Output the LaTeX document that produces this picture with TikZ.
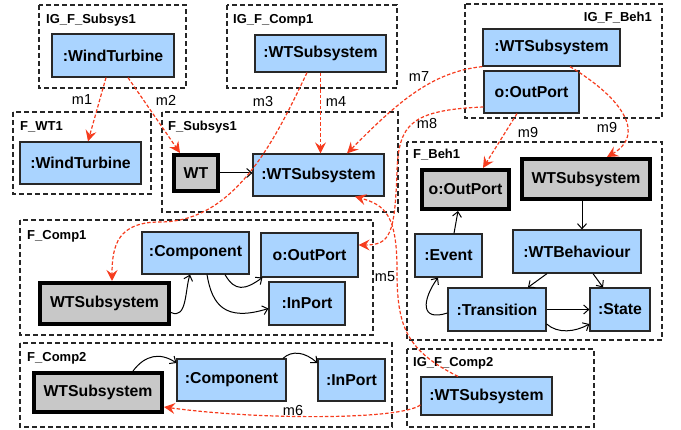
\documentclass[tikz,border=0pt]{standalone}
\usepackage{fontspec}
\setmainfont{Liberation Sans}
\usetikzlibrary{arrows.meta}

\definecolor{boxblue}{RGB}{170,212,255}
\definecolor{boxgray}{RGB}{200,200,200}
\definecolor{mapred}{RGB}{246,60,30}
\definecolor{edgedark}{RGB}{40,40,40}

\begin{document}
\begin{tikzpicture}[x=1pt,y=-1pt,
  sz/.style 2 args={minimum width=#1pt, minimum height=#2pt},
  inst/.style={draw=edgedark, line width=1.2pt, fill=boxblue, inner sep=0pt,
    font=\fontsize{15.8}{18}\selectfont\bfseries},
  role/.style={draw=black, line width=4pt, fill=boxgray, inner sep=0pt,
    font=\fontsize{15.8}{18}\selectfont\bfseries},
  frame/.style={draw=black!85, line width=1.2pt, dash pattern=on 5pt off 3pt},
  ftitle/.style={font=\fontsize{13}{15}\selectfont\bfseries, inner sep=0pt},
  mlabel/.style={font=\fontsize{14.5}{16}\selectfont, inner sep=0pt},
  link/.style={draw=black, line width=1pt, -{Straight Barb[length=5pt,width=9pt]}},
  map/.style={draw=mapred, line width=1.2pt, dash pattern=on 3.5pt off 2pt,
    -{Stealth[length=11pt,width=11pt,inset=4pt]}},
]
\useasboundingbox (0,0) rectangle (681,430);

% dashed fragment frames
\draw[frame] (39,5) rectangle (186,88);
\draw[frame] (13,112) rectangle (151,194);
\draw[frame] (227,5) rectangle (397,88);
\draw[frame] (465,4) rectangle (662,118);
\draw[frame] (162,112) rectangle (398,212);
\draw[frame] (407,142) rectangle (662,340);
\draw[frame] (20,220) rectangle (373,335);
\draw[frame] (20,343) rectangle (392,427);
\draw[frame] (407,349) rectangle (594,427);

% frame titles
\node[ftitle, anchor=west] (tIGSubsys) at (46,20) {IG\_F\_Subsys1};
\node[ftitle, anchor=west] (tWT) at (20,127) {F\_WT1};
\node[ftitle, anchor=west] (tIGComp1) at (233,20) {IG\_F\_Comp1};
\node[ftitle, anchor=east] (tIGBeh) at (652,18) {IG\_F\_Beh1};
\node[ftitle, anchor=west] (tSubsys) at (168,127) {F\_Subsys1};
\node[ftitle, anchor=west] (tBeh) at (413,155) {F\_Beh1};
\node[ftitle, anchor=west] (tComp1) at (27,236) {F\_Comp1};
\node[ftitle, anchor=west] (tComp2) at (27,358) {F\_Comp2};
\node[ftitle, anchor=west] (tIGComp2) at (413,363) {IG\_F\_Comp2};

% instance boxes
\node[inst, sz={122}{43}] (wtA) at (113,55.5) {:WindTurbine};
\node[inst, sz={121}{42}] (wtB) at (80.5,163) {:WindTurbine};
\node[inst, sz={131}{37}] (subC) at (320.5,53.5) {:WTSubsystem};
\node[inst, sz={131}{42}] (subS) at (318.5,175) {:WTSubsystem};
\node[inst, sz={137}{37}] (subB) at (551.5,47.5) {:WTSubsystem};
\node[inst, sz={95}{42}] (outB) at (531.5,92) {o:OutPort};
\node[inst, sz={107}{42}] (compA) at (195.5,253) {:Component};
\node[inst, sz={97}{44}] (outA) at (309.5,255) {o:OutPort};
\node[inst, sz={76}{43}] (inA) at (307,303.5) {:InPort};
\node[inst, sz={67}{43}] (evt) at (448.5,255.5) {:Event};
\node[inst, sz={128}{43}] (beh) at (577,251.5) {:WTBehaviour};
\node[inst, sz={98}{43}] (trans) at (497,309.5) {:Transition};
\node[inst, sz={60}{43}] (state) at (620,309.5) {:State};
\node[inst, sz={109}{42}] (compB) at (231.5,380) {:Component};
\node[inst, sz={67}{42}] (inB) at (351.5,380) {:InPort};
\node[inst, sz={131}{38}] (subD) at (486.5,396) {:WTSubsystem};

% role boxes
\node[role, sz={44}{36}] (wt) at (196,173) {WT};
\node[role, sz={129}{41}] (subA) at (104.5,303.5) {WTSubsystem};
\node[role, sz={87}{39}] (outC) at (465.5,189.5) {o:OutPort};
\node[role, sz={128}{40}] (subE) at (586,179) {WTSubsystem};
\node[role, sz={128}{39}] (subF) at (98,392.5) {WTSubsystem};

% structural links
\draw[link] (wt.east) -- (wt.east -| subS.west);
\draw[link] ([yshift=-9pt]subA.east) .. controls (187,320) and (185,290) .. ([xshift=-5.5pt]compA.south);
\draw[link] ([xshift=29.5pt]compA.south) .. controls (235,292) and (245,290) .. ([xshift=2pt]outA.south west);
\draw[link] ([xshift=11.5pt]compA.south) .. controls (212,305) and (225,322) .. ([yshift=-5pt]inA.west);
\draw[link] ([xshift=-4pt]subE.south) -- ([xshift=5pt]beh.north);
\draw[link] ([xshift=5.5pt]evt.north) -- ([xshift=-7.5pt]outC.south);
\draw[link] ([xshift=-30pt]beh.south) -- ([xshift=31pt]trans.north);
\draw[link] ([xshift=16pt]beh.south) -- ([xshift=-17pt]state.north);
\draw[link] (trans.east) -- (state.west);
\draw[link] ([yshift=-14.5pt]trans.east) .. controls (558,334) and (575,332) .. ([yshift=-14.5pt]state.west);
\draw[link] ([yshift=-3.5pt]trans.west) .. controls (420,322) and (422,300) .. ([xshift=-10.5pt]evt.south);
\draw[link] ([xshift=35pt]subF.north) .. controls (145,355) and (160,352) .. ([yshift=17pt]compB.west);
\draw[link] ([xshift=51.5pt]compB.north) .. controls (292,350) and (305,352) .. ([yshift=17pt]inB.west);

% mappings
\draw[map] ([xshift=-7pt]wtA.south) -- ([xshift=7.5pt]wtB.north);
\draw[map] ([xshift=15pt]wtA.south) -- ([xshift=-16pt]wt.north);
\draw[map] ([xshift=-13.5pt]subC.south) .. controls (275,140) and (235,222) .. (160,222)
  .. controls (118,222) and (112,245) .. ([xshift=7.5pt]subA.north);
\draw[map] (subC.south) -- (subC.south |- subS.north);
\draw[map] (subB.south west) .. controls (430,72) and (395,105) .. ([xshift=28.5pt]subS.north);
\draw[map] ([yshift=-15pt]outB.west) .. controls (410,110) and (399,125) .. (397,170)
  .. controls (395,235) and (390,245) .. ([yshift=10pt]outA.east);
\draw[map] ([xshift=-14.5pt]outB.south) -- ([xshift=17.5pt]outC.north);
\draw[map] ([xshift=18.5pt]subB.south) .. controls (625,100) and (645,135) .. ([xshift=21pt]subE.north);
\draw[map] ([xshift=-28.5pt]subD.north) .. controls (405,350) and (397,325) .. (397,270)
  .. controls (397,215) and (385,205) .. ([xshift=36.5pt]subS.south);
\draw[map] ([yshift=-9pt]subD.west) .. controls (400,420) and (260,420) .. ([yshift=-14.5pt]subF.east);

% mapping labels
\node[mlabel] (lm1) at (82,100) {m1};
\node[mlabel] (lm2) at (166,100) {m2};
\node[mlabel] (lm3) at (263,102) {m3};
\node[mlabel] (lm4) at (336,102) {m4};
\node[mlabel] (lm7) at (419,77) {m7};
\node[mlabel] (lm8) at (427,124) {m8};
\node[mlabel] (lm9a) at (528,133) {m9};
\node[mlabel] (lm9b) at (607,128) {m9};
\node[mlabel] (lm5) at (385,277) {m5};
\node[mlabel] (lm6) at (293,411) {m6};
\end{tikzpicture}
\end{document}
